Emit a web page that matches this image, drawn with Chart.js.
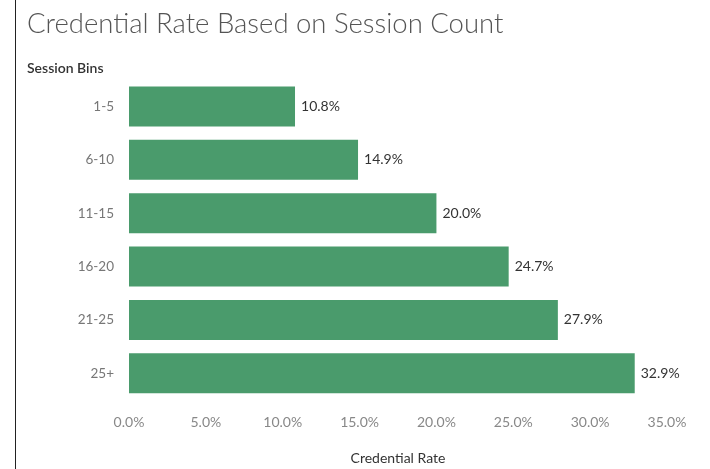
<!DOCTYPE html>
<html>
<head>
<meta charset="utf-8">
<script src="https://cdn.jsdelivr.net/npm/chart.js@4"></script>
<style>
    body { margin: 0; background: #fff; }
    #wrap { position: relative; width: 710px; height: 469px; }
    #edge { position: absolute; left: 15px; top: 0; width: 1px; height: 469px; background: #222; }
</style>
</head>
<body>
<div id="wrap">
    <canvas id="rateChart" width="710" height="469"></canvas>
    <div id="edge"></div>
</div>
<script>
const sessionBins = ['1-5', '6-10', '11-15', '16-20', '21-25', '25+'];
const credentialRates = [10.8, 14.9, 20.0, 24.7, 27.9, 32.9];
const rateTicks = [0, 5, 10, 15, 20, 25, 30, 35];

const FONT = 'Lato, "Open Sans", sans-serif';

// draws the value text at the end of every bar
const barValues = {
    id: 'barValues',
    afterDatasetsDraw(chart) {
        const ctx = chart.ctx;
        const meta = chart.getDatasetMeta(0);
        ctx.save();
        ctx.font = '14px ' + FONT;
        ctx.fillStyle = '#333';
        ctx.textAlign = 'left';
        ctx.textBaseline = 'middle';
        meta.data.forEach((bar, i) => {
            ctx.fillText(credentialRates[i].toFixed(1) + '%', bar.x + 6, bar.y);
        });
        ctx.restore();
    }
};

const ctx = document.getElementById('rateChart').getContext('2d');

new Chart(ctx, {
    type: 'bar',
    data: {
        labels: sessionBins,
        datasets: [{
            data: credentialRates,
            backgroundColor: '#4a9b6c',
            barPercentage: 0.75,
            categoryPercentage: 1.0
        }]
    },
    options: {
        indexAxis: 'y',
        responsive: false,
        animation: false,
        layout: { padding: { left: 27, right: 43, top: 0, bottom: 0 } },
        plugins: {
            legend: { display: false },
            tooltip: { enabled: false },
            title: {
                display: true,
                text: 'Credential Rate Based on Session Count',
                align: 'start',
                color: '#555',
                font: { family: FONT, size: 27.5, weight: '300' },
                padding: { top: 8, bottom: 19 }
            },
            subtitle: {
                display: true,
                text: 'Session Bins',
                align: 'start',
                color: '#333',
                font: { family: FONT, size: 14, weight: '600' },
                padding: { top: 0, bottom: 3 }
            }
        },
        scales: {
            x: {
                min: 0,
                max: 35,
                afterBuildTicks: scale => {
                    scale.ticks = rateTicks.map(v => ({ value: v }));
                },
                grid: { display: false },
                border: { display: false },
                ticks: {
                    color: '#888',
                    padding: 6,
                    font: { family: FONT, size: 14 },
                    callback: v => v.toFixed(1) + '%'
                },
                title: {
                    display: true,
                    text: 'Credential Rate',
                    color: '#333',
                    font: { family: FONT, size: 14 },
                    padding: { top: 0, bottom: 2 }
                },
                afterFit: scale => { scale.height = 69; }
            },
            y: {
                grid: { display: false },
                border: { display: false },
                ticks: {
                    color: '#777',
                    padding: 7,
                    font: { family: FONT, size: 13.5 }
                },
                afterFit: scale => { scale.width = 102; }
            }
        }
    },
    plugins: [barValues]
});
</script>
</body>
</html>
